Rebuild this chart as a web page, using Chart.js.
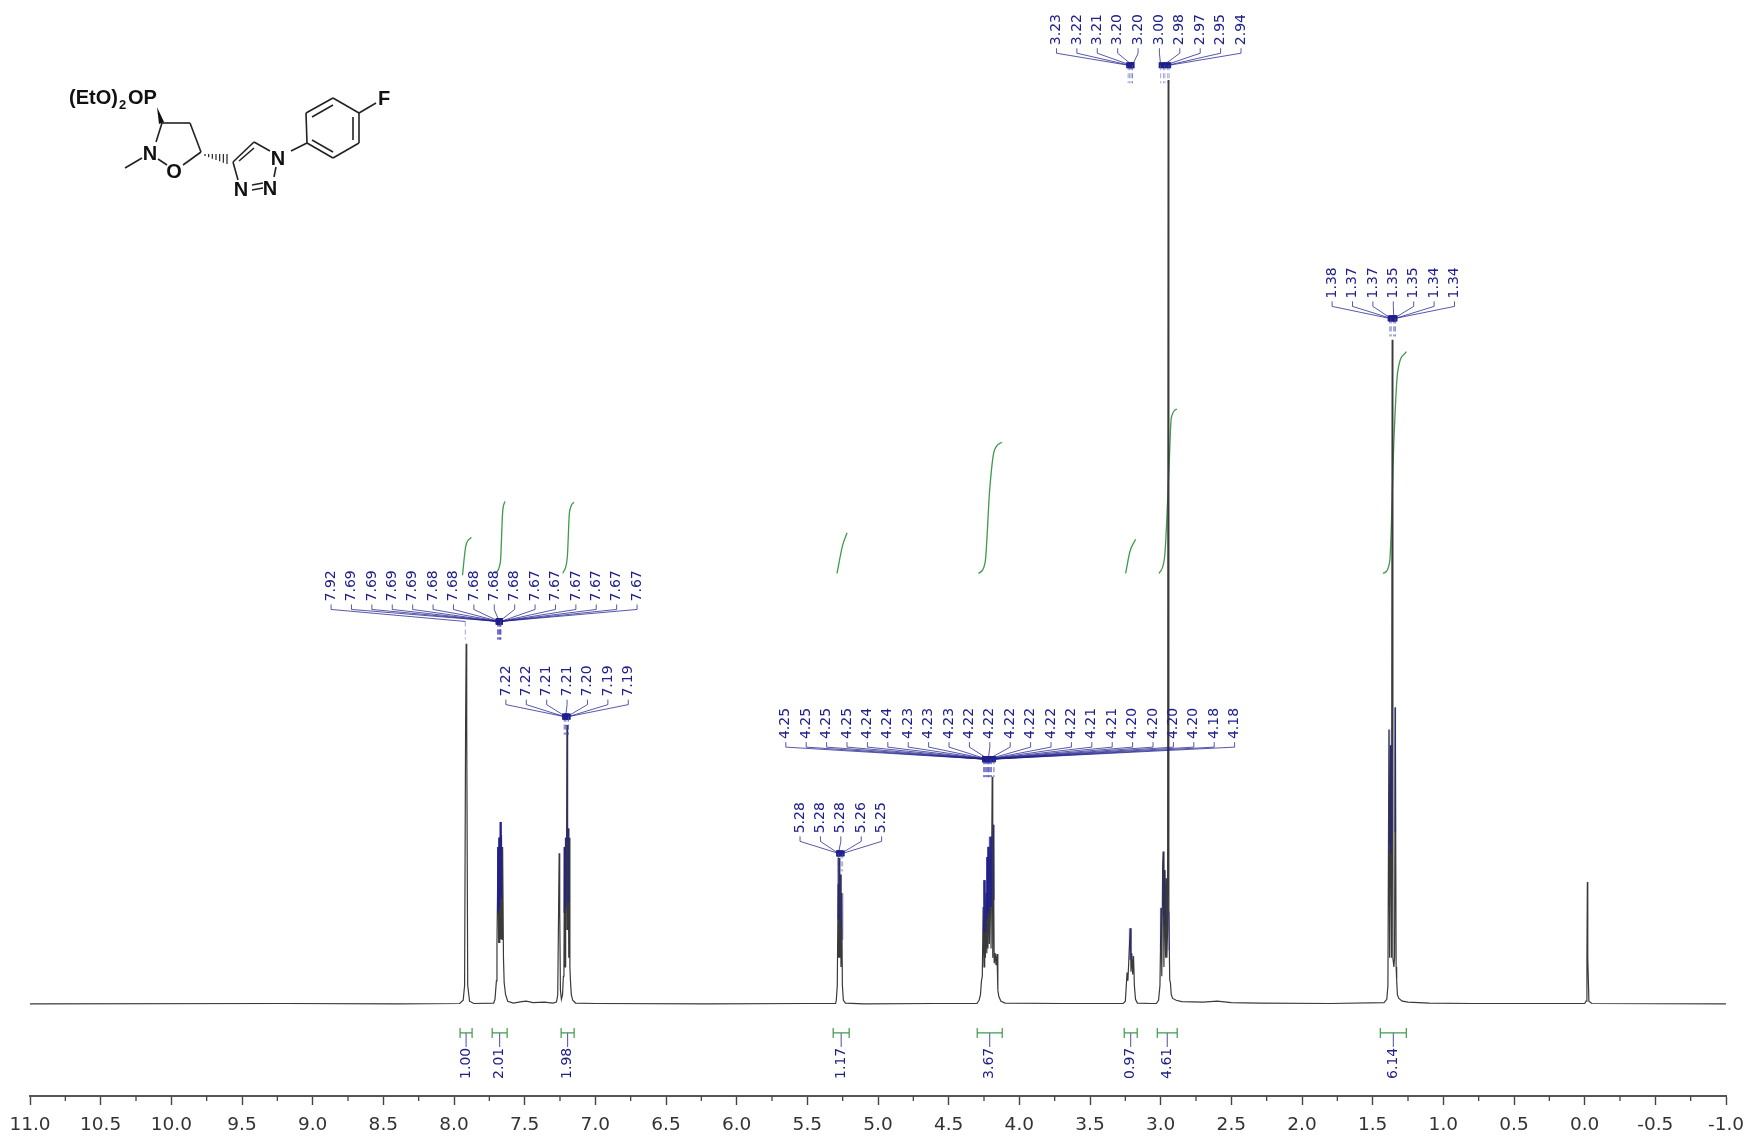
<!DOCTYPE html>
<html>
<head>
<meta charset="utf-8">
<title>1H NMR</title>
<script src="https://cdn.jsdelivr.net/npm/chart.js@4"></script>
<style>
  html, body { margin: 0; padding: 0; background: #fff; }
  #wrap { width: 1747px; height: 1141px; }
  canvas { filter: blur(0.4px); }
</style>
</head>
<body>
<div id="wrap"><canvas id="nmrChart" width="1747" height="1141"></canvas></div>
<script>
// spectrum trace: chemical shift (ppm) and relative height
const specPpm = [
  11.0, 9.2, 8.4, 7.96,
  7.935, 7.925, 7.918, 7.914, 7.910, 7.903, 7.89, 7.86,
  7.72, 7.71, 7.70, 7.696, 7.688, 7.684, 7.680, 7.676, 7.672, 7.668, 7.664, 7.660, 7.656, 7.650, 7.645, 7.635, 7.62, 7.58, 7.52, 7.49, 7.44, 7.36, 7.30,
  7.275, 7.266, 7.260, 7.256, 7.252, 7.247, 7.240,
  7.232, 7.226, 7.222, 7.218, 7.214, 7.210, 7.206, 7.200, 7.196, 7.192, 7.188, 7.184, 7.180, 7.176, 7.170, 7.160, 7.14, 7.0, 6.2, 5.5,
  5.30, 5.295, 5.288, 5.282, 5.278, 5.274, 5.270, 5.266, 5.262, 5.257, 5.252, 5.245, 5.23, 5.1, 4.6,
  4.30, 4.285, 4.275, 4.268, 4.262, 4.256, 4.250, 4.245, 4.240, 4.234, 4.230, 4.226, 4.222, 4.216, 4.212, 4.206, 4.200, 4.192, 4.188, 4.184, 4.178, 4.171, 4.165, 4.158, 4.152, 4.145, 4.13, 4.10, 3.7,
  3.265, 3.25, 3.245, 3.238, 3.232, 3.226, 3.215, 3.210, 3.204, 3.198, 3.192, 3.186, 3.178, 3.165, 3.06,
  3.03, 3.015, 3.005, 2.997, 2.992, 2.986, 2.982, 2.977, 2.970, 2.965, 2.960, 2.956, 2.951, 2.947, 2.942, 2.936, 2.931, 2.925, 2.915, 2.89, 2.85, 2.7, 2.6, 2.5, 2.3, 1.8,
  1.42, 1.40, 1.392, 1.385, 1.380, 1.374, 1.367, 1.362, 1.357, 1.350, 1.345, 1.340, 1.334, 1.330, 1.325, 1.315, 1.29, 1.25, 1.1, 0.8, 0.3,
  0.0, -0.01, -0.016, -0.019, -0.022, -0.03, -0.05, -1.0
];
const specInt = [
  0.0, 0.05, 0.0, 0.05,
  0.4, 2.0, 30, 39.0, 30, 2.0, 0.3, 0.05,
  0.1, 0.5, 2.5, 6.6, 17.0, 6.6, 18.0, 6.6, 19.7, 7.0, 18.3, 7.0, 17.0, 5.0, 2.3, 1.0, 0.3, 0.1, 0.25, 0.3, 0.15, 0.2, 0.1,
  0.2, 1.0, 10, 16.3, 10, 1.5, 0.5,
  1.0, 3.0, 4.0, 17.0, 4.0, 18.0, 8.0, 30.2, 8.0, 19.0, 5.0, 18.0, 4.0, 2.5, 1.0, 0.4, 0.1, 0.05, 0.0, 0.05,
  0.05, 0.4, 2.0, 13.0, 5.0, 15.8, 5.0, 14.0, 4.0, 12.0, 2.0, 0.4, 0.1, 0.0, 0.05,
  0.05, 0.4, 1.0, 2.5, 3.0, 10.5, 4.0, 13.4, 5.0, 12.0, 5.5, 15.9, 6.0, 17.0, 6.5, 18.1, 6.0, 24.6, 5.0, 19.4, 4.4, 5.5, 4.2, 5.4, 1.5, 0.8, 0.3, 0.1, 0.05,
  0.05, 0.3, 1.5, 3.4, 2.5, 4.5, 8.2, 3.5, 5.5, 3.2, 5.2, 2.0, 0.5, 0.1, 0.05,
  0.05, 0.4, 2.0, 10.4, 3.0, 15.0, 16.5, 4.0, 14.5, 5.0, 13.6, 5.0, 8.0, 100, 10, 2.6, 2.3, 1.0, 0.6, 0.4, 0.25, 0.2, 0.3, 0.15, 0.1, 0.05,
  0.15, 0.5, 2.0, 29.7, 5.0, 28.0, 5.0, 71.9, 5.0, 4.0, 5.0, 32.1, 4.0, 2.5, 1.0, 0.6, 0.3, 0.2, 0.1, 0.05, 0.05,
  0.05, 0.3, 5.0, 13.2, 5.0, 0.3, 0.05, 0.0
];

// integral curves
const integralPpm = [
  [7.94, 7.916, 7.877],
  [7.711, 7.672, 7.656, 7.64],
  [7.23, 7.198, 7.183, 7.151],
  [5.29, 5.251, 5.219],
  [4.289, 4.242, 4.21, 4.179, 4.123],
  [3.248, 3.217, 3.177],
  [3.012, 2.972, 2.941, 2.925, 2.885],
  [1.427, 1.38, 1.348, 1.324, 1.261]
];
const integralCurve = [
  [46.4, 49.6, 50.5],
  [46.6, 47.8, 53.2, 54.4],
  [46.6, 48.4, 53.2, 54.3],
  [46.6, 49.6, 51.0],
  [46.6, 47.8, 55.6, 59.8, 60.8],
  [46.6, 49.0, 50.3],
  [46.6, 48.4, 58.0, 63.4, 64.4],
  [46.6, 47.8, 61.6, 68.3, 70.6]
];
const integralFrom = [7.957, 7.73, 7.242, 5.317, 4.298, 3.258, 3.024, 1.446];
const integralTo = [7.872, 7.624, 7.15, 5.204, 4.121, 3.166, 2.883, 1.262];
const integralLabels = ['1.00', '2.01', '1.98', '1.17', '3.67', '0.97', '4.61', '6.14'];

// peak pick labels
const peaksA = ['7.92', '7.69', '7.69', '7.69', '7.69', '7.68', '7.68', '7.68', '7.68', '7.68', '7.67', '7.67', '7.67', '7.67', '7.67', '7.67'];
const peaksB = ['7.22', '7.22', '7.21', '7.21', '7.20', '7.19', '7.19'];
const peaksC = ['5.28', '5.28', '5.28', '5.26', '5.25'];
const peaksD = ['4.25', '4.25', '4.25', '4.25', '4.24', '4.24', '4.23', '4.23', '4.23', '4.22', '4.22', '4.22', '4.22', '4.22', '4.22', '4.21', '4.21', '4.20', '4.20', '4.20', '4.20', '4.18', '4.18'];
const peaksE = ['3.23', '3.22', '3.21', '3.20', '3.20'];
const peaksF = ['3.00', '2.98', '2.97', '2.95', '2.94'];
const peaksG = ['1.38', '1.37', '1.37', '1.35', '1.35', '1.34', '1.34'];

const NAVY = '#20208c';
const GREEN = '#3f9a4c';

// hub: where the fan converges, shift: sideways move of the label row in px
const fans = [
  { labels: peaksA, hubPpm: 7.674, hubInt: 41.4, shift: -16 },
  { labels: peaksB, hubPpm: 7.2, hubInt: 31.1, shift: 0 },
  { labels: peaksC, hubPpm: 5.27, hubInt: 16.3, shift: 1 },
  { labels: peaksD, hubPpm: 4.206, hubInt: 26.5, shift: 20 },
  { labels: peaksE, hubPpm: 3.208, hubInt: 101.6, shift: -34 },
  { labels: peaksF, hubPpm: 2.975, hubInt: 101.6, shift: 36 },
  { labels: peaksG, hubPpm: 1.354, hubInt: 74.2, shift: 0 }
];

function vText(c, txt, x, y, font, color) {
  c.save();
  c.translate(x, y);
  c.rotate(-Math.PI / 2);
  c.font = font;
  c.fillStyle = color;
  c.textAlign = 'left';
  c.textBaseline = 'middle';
  c.fillText(txt, 0, 0);
  c.restore();
}

function peakTop(ppm) {
  let top = 0;
  specPpm.forEach((p, i) => {
    if (Math.abs(p - ppm) < 0.007 && specInt[i] > top) top = specInt[i];
  });
  return top;
}

const annotations = {
  id: 'annotations',
  afterDatasetsDraw(chart) {
    const c = chart.ctx;
    const xs = chart.scales.x;
    const ys = chart.scales.y;
    const base = ys.getPixelForValue(0);

    // minor axis ticks
    c.save();
    c.strokeStyle = '#444';
    c.lineWidth = 1.3;
    for (let v = -0.75; v < 11; v += 0.5) {
      const px = xs.getPixelForValue(v);
      c.beginPath();
      c.moveTo(px, ys.bottom);
      c.lineTo(px, ys.bottom + 5);
      c.stroke();
    }
    c.restore();

    // peak labels and leader fans
    const step = 20.4;
    fans.forEach(f => {
      const hubX = xs.getPixelForValue(f.hubPpm);
      const hubY = ys.getPixelForValue(f.hubInt);
      const startX = hubX + f.shift - (f.labels.length - 1) * step / 2;
      const rowY = hubY - 12;
      f.labels.forEach((txt, i) => {
        const v = parseFloat(txt);
        const lx = startX + i * step;
        const tx = xs.getPixelForValue(v);
        const near = Math.abs(v - f.hubPpm) < 0.1;
        const top = peakTop(v);
        const topY = ys.getPixelForValue(top);
        c.strokeStyle = 'rgba(32,32,140,0.75)';
        c.lineWidth = 1;
        c.beginPath();
        c.moveTo(lx, rowY - 5);
        c.lineTo(lx, rowY);
        c.lineTo(tx, hubY);
        c.stroke();
        if (near) {
          c.fillStyle = NAVY;
          c.fillRect(tx - 2, hubY - 3, 4, 6);
        }
        // short dashed drop under the hub
        c.strokeStyle = 'rgba(90,90,190,0.55)';
        c.setLineDash([5, 3]);
        c.beginPath();
        c.moveTo(tx, hubY);
        c.lineTo(tx, hubY + 18);
        c.stroke();
        c.setLineDash([]);
        // pick colour over the top of the peak
        if (near && top > 8 && top < 60) {
          c.strokeStyle = 'rgba(32,32,150,0.4)';
          c.lineWidth = 1.6;
          c.beginPath();
          c.moveTo(tx, topY);
          c.lineTo(tx, topY + (base - topY) * 0.42);
          c.stroke();
        }
        vText(c, txt, lx, rowY - 8, '14px "DejaVu Sans"', NAVY);
      });
    });

    // integral brackets below the baseline
    integralLabels.forEach((txt, i) => {
      const a = xs.getPixelForValue(integralFrom[i]);
      const b = xs.getPixelForValue(integralTo[i]);
      const m = (a + b) / 2;
      const y = base + 29;
      c.strokeStyle = 'rgba(32,32,140,0.8)';
      c.lineWidth = 1;
      c.beginPath();
      c.moveTo(m, y);
      c.lineTo(m, y + 14);
      c.stroke();
      c.strokeStyle = GREEN;
      c.lineWidth = 1.2;
      c.beginPath();
      c.moveTo(a, y - 5); c.lineTo(a, y + 5);
      c.moveTo(b, y - 5); c.lineTo(b, y + 5);
      c.moveTo(a, y); c.lineTo(b, y);
      c.stroke();
      vText(c, txt, m, y + 46, '14px "DejaVu Sans"', NAVY);
    });

    drawStructure(c);
  }
};

// compound drawing at the top left
function drawStructure(c) {
  const bonds = [
    [162, 123, 190, 123], [190, 123, 201, 152], [201, 152, 183, 165],
    [167, 165, 158, 159], [156, 142, 162, 123], [142, 158, 125, 168],
    [233, 162, 254, 142], [239, 161, 254, 148], [254, 142, 270, 151],
    [276, 167, 274, 177], [252, 185, 263, 183], [252, 190, 263, 188],
    [238, 180, 233, 162], [291, 151, 307, 143],
    [307, 143, 306, 113], [306, 113, 333, 98], [333, 98, 359, 113],
    [359, 113, 359, 143], [359, 143, 333, 158], [333, 158, 307, 143],
    [312, 117, 333, 105], [353, 117, 353, 140], [312, 140, 333, 152],
    [359, 113, 376, 103]
  ];
  c.save();
  c.strokeStyle = '#222';
  c.lineWidth = 1.6;
  bonds.forEach(b => {
    c.beginPath();
    c.moveTo(b[0], b[1]);
    c.lineTo(b[2], b[3]);
    c.stroke();
  });
  // wedge to P
  c.fillStyle = '#111';
  c.beginPath();
  c.moveTo(157, 107);
  c.lineTo(159, 124);
  c.lineTo(164, 122);
  c.closePath();
  c.fill();
  // hashed bond to the triazole
  c.lineWidth = 1.2;
  for (let i = 0; i < 7; i++) {
    const t = i / 6;
    const x = 205 + 22 * t;
    const y = 155 + 4 * t;
    const h = 1 + 4 * t;
    c.beginPath();
    c.moveTo(x, y - h);
    c.lineTo(x, y + h);
    c.stroke();
  }
  c.fillStyle = '#111';
  c.textBaseline = 'alphabetic';
  c.textAlign = 'left';
  c.font = 'bold 20px "Liberation Sans"';
  c.fillText('(EtO)', 69, 104);
  c.fillText('OP', 128, 104);
  c.font = 'bold 13px "Liberation Sans"';
  c.fillText('2', 119, 109);
  c.font = 'bold 20px "Liberation Sans"';
  c.textAlign = 'center';
  c.fillText('N', 150, 160);
  c.fillText('O', 174, 178);
  c.fillText('N', 278, 165);
  c.fillText('N', 241, 196);
  c.fillText('N', 270, 195);
  c.fillText('F', 384, 105);
  c.restore();
}

const datasets = [{
  data: specPpm.map((p, i) => ({ x: p, y: specInt[i] })),
  borderColor: '#3a3a3a',
  borderWidth: 1.2,
  pointRadius: 0
}];
integralPpm.forEach((ppm, k) => {
  datasets.push({
    data: ppm.map((p, i) => ({ x: p, y: integralCurve[k][i] })),
    borderColor: GREEN,
    borderWidth: 1.3,
    pointRadius: 0,
    cubicInterpolationMode: 'monotone'
  });
});

new Chart(document.getElementById('nmrChart'), {
  type: 'line',
  data: { datasets },
  plugins: [annotations],
  options: {
    responsive: false,
    animation: false,
    layout: { padding: { left: 30, right: 21, top: 0, bottom: 0 } },
    plugins: { legend: { display: false }, tooltip: { enabled: false } },
    scales: {
      x: {
        type: 'linear',
        reverse: true,
        min: -1,
        max: 11,
        afterFit: s => {
          s.height = 45;
          s.paddingLeft = 0;
          s.paddingRight = 0;
        },
        border: { color: '#555', width: 2 },
        grid: { drawOnChartArea: false, tickLength: 9, tickColor: '#444', tickWidth: 1.4 },
        ticks: {
          stepSize: 0.5,
          autoSkip: false,
          maxRotation: 0,
          padding: 9,
          color: '#333',
          font: { family: '"DejaVu Sans"', size: 18.5 },
          callback: v => v.toFixed(1)
        }
      },
      y: { display: false, min: -9.96, max: 108.66 }
    }
  }
});
</script>
</body>
</html>
